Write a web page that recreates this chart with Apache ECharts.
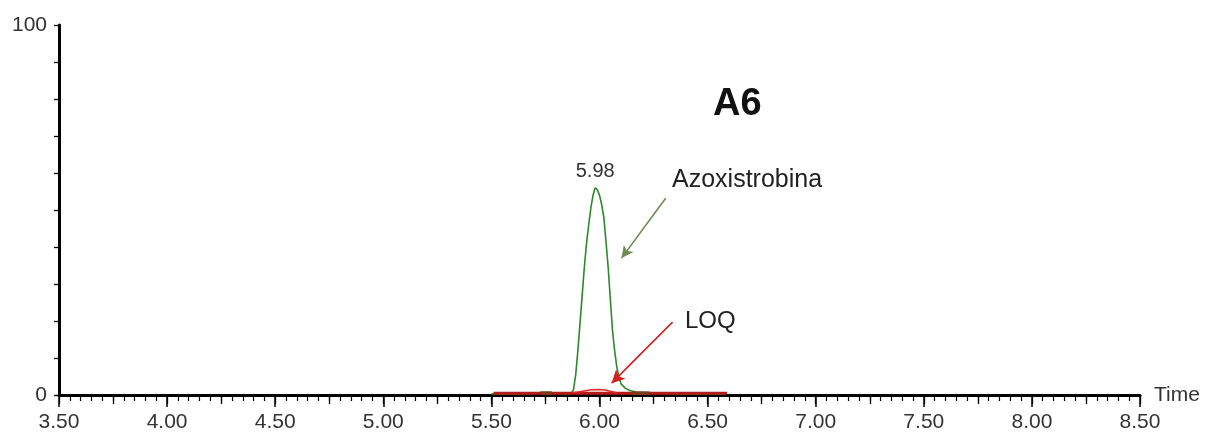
<!DOCTYPE html>
<html>
<head>
<meta charset="utf-8">
<script src="https://cdn.jsdelivr.net/npm/echarts@6/dist/echarts.min.js"></script>
<style>
html,body{margin:0;padding:0;background:#fff;}
#chart{width:1215px;height:437px;}
</style>
</head>
<body>
<div id="chart"></div>
<script>
// Green trace (Azoxistrobina): time (min), relative intensity (%)
const greenTimes = [5.50,5.60,5.70,5.73,5.77,5.80,5.85,5.87,5.88,5.89,5.90,5.91,5.92,5.93,5.94,5.95,5.96,5.97,5.98,5.99,6.00,6.01,6.02,6.03,6.04,6.05,6.06,6.07,6.08,6.09,6.10,6.12,6.14,6.17,6.20,6.25,6.30,6.40,6.58];
const greenValues = [0.3,0.3,0.4,0.7,0.7,0.4,0.3,0.4,1.5,5.5,12,19.5,27,34.6,41,46,50.5,54,56,55.5,54,51.5,48,41.5,34.6,26,17.5,12,7.6,4.8,3,1.8,1.2,0.8,0.7,0.6,0.4,0.3,0.3];
// Red LOQ baseline
const redBaseTimes = [5.51, 6.59];
const redBaseValues = [0.5, 0.5];
// Red LOQ signal (small hump)
const redTimes = [5.875,5.90,5.93,5.96,5.99,6.02,6.05,6.08];
const redValues = [0.6,0.8,1.1,1.4,1.5,1.4,1.0,0.6];
// Brownish overlap marks on the baseline
const brownSegs = [[5.73, 5.78], [6.15, 6.23]];
const brownValue = 0.5;
// Peak annotation
const peakTime = 5.98, peakValue = 56, peakLabel = '5.98';
// Arrows [fromTime, fromPct, toTime, toPct]
const greenArrow = [6.306, 53.2, 6.102, 37.0];
const redArrow = [6.338, 19.7, 6.056, 3.2];
// Axis ticks
const xMin = 3.5, xMax = 8.5, xStep = 0.5, xMidStep = 0.25;
const yMin = 0, yMax = 100, yStep = 10;
const yLabels = ['0', '100'];

const chart = echarts.init(document.getElementById('chart'));
const font = 'Arial, "Liberation Sans", sans-serif';

const brownData = [];
brownSegs.forEach((s, i) => {
  if (i > 0) brownData.push([null, null]);
  brownData.push([s[0], brownValue], [s[1], brownValue]);
});

chart.setOption({
  animation: false,
  backgroundColor: '#fff',
  grid: {left: 59, right: 75, top: 25, bottom: 42, containLabel: false, outerBoundsMode: 'none'},
  xAxis: [{
    type: 'value', min: xMin, max: xMax, interval: xStep, position: 'bottom',
    name: 'Time', nameLocation: 'end', nameGap: 14,
    nameTextStyle: {fontSize: 21, color: '#333', fontFamily: font},
    axisLine: {show: true, onZero: false, lineStyle: {color: '#000', width: 3}},
    axisTick: {show: true, length: 12, lineStyle: {color: '#000', width: 1.5}},
    minorTick: {show: true, splitNumber: 10, length: 6, lineStyle: {color: '#000', width: 1.2}},
    axisLabel: {margin: 17, fontSize: 21, color: '#333', fontFamily: font, formatter: v => v.toFixed(2)},
    splitLine: {show: false}
  }, {
    type: 'value', min: xMin, max: xMax, interval: xMidStep, position: 'bottom', offset: 0,
    axisLine: {show: false, onZero: false},
    axisTick: {show: true, length: 9, lineStyle: {color: '#000', width: 1.3}},
    axisLabel: {show: false},
    splitLine: {show: false}
  }],
  yAxis: {
    type: 'value', min: yMin, max: yMax, interval: yStep,
    name: '%', nameLocation: 'middle', nameGap: 16, nameRotate: 90,
    nameTextStyle: {fontSize: 21, color: '#333', fontFamily: font},
    axisLine: {show: true, onZero: false, lineStyle: {color: '#000', width: 3}},
    axisTick: {show: true, length: 5, lineStyle: {color: '#000', width: 1.3}},
    axisLabel: {margin: 12, fontSize: 21, color: '#333', fontFamily: font,
      formatter: v => (yLabels.indexOf(String(v)) >= 0 ? String(v) : '')},
    splitLine: {show: false}
  },
  series: [
    {
      name: 'Azoxistrobina', type: 'line', symbol: 'none', silent: true,
      data: greenTimes.map((t, i) => [t, greenValues[i]]),
      lineStyle: {color: '#2a8a2a', width: 1.6}, z: 4,
      markPoint: {
        silent: true, symbol: 'circle', symbolSize: 2,
        itemStyle: {color: 'rgba(0,0,0,0)'},
        label: {show: true, position: 'top', distance: 5, formatter: peakLabel, fontSize: 20, color: '#333', fontFamily: font},
        data: [{coord: [peakTime, peakValue]}]
      },
      markLine: {
        silent: true, symbol: ['none', 'arrow'], symbolSize: [9, 12],
        label: {show: false},
        lineStyle: {color: '#6e8c52', width: 1.6, type: 'solid'},
        data: [[{coord: [greenArrow[0], greenArrow[1]]}, {coord: [greenArrow[2], greenArrow[3]]}]]
      }
    },
    {
      name: 'LOQ base', type: 'line', symbol: 'none', silent: true,
      data: redBaseTimes.map((t, i) => [t, redBaseValues[i]]),
      lineStyle: {color: '#b41c1c', width: 3}, z: 6
    },
    {
      name: 'overlap', type: 'line', symbol: 'none', silent: true, connectNulls: false,
      data: brownData,
      lineStyle: {color: '#7a3a1c', width: 3.5}, z: 7
    },
    {
      name: 'LOQ', type: 'line', symbol: 'none', silent: true,
      data: redTimes.map((t, i) => [t, redValues[i]]),
      lineStyle: {color: '#e02828', width: 1.5}, z: 8,
      markLine: {
        silent: true, symbol: ['none', 'arrow'], symbolSize: [10, 13],
        label: {show: false},
        lineStyle: {color: '#d42020', width: 1.6, type: 'solid'},
        data: [[{coord: [redArrow[0], redArrow[1]]}, {coord: [redArrow[2], redArrow[3]]}]]
      }
    }
  ],
  graphic: [
    {type: 'text', left: 713, top: 86, style: {text: 'A6', font: 'bold 38px ' + font, fill: '#111'}},
    {type: 'text', left: 672, top: 168, style: {text: 'Azoxistrobina', font: '25px ' + font, fill: '#222'}},
    {type: 'text', left: 685, top: 309, style: {text: 'LOQ', font: '24px ' + font, fill: '#222'}}
  ]
});
</script>
</body>
</html>
